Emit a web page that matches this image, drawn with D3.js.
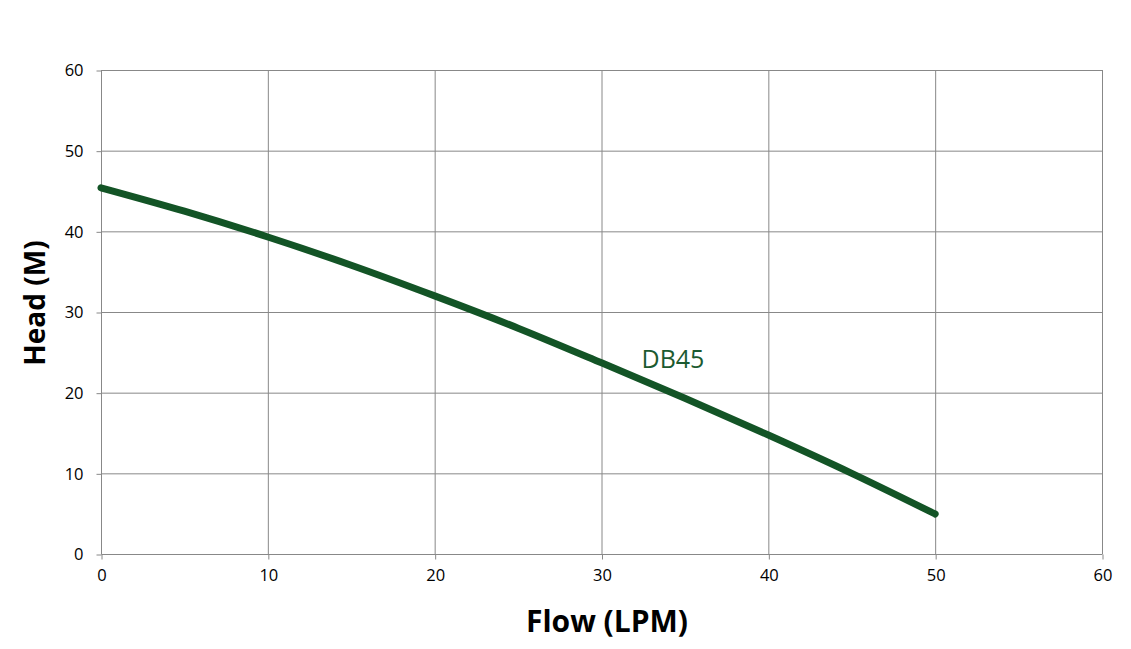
<!DOCTYPE html>
<html lang="en">
<head>
<meta charset="UTF-8">
<title>DB45 pump curve</title>
<script src="https://cdn.jsdelivr.net/npm/d3@7/dist/d3.min.js"></script>
<style>
    body{margin:0;background:#fff;}
    .tick text{font-family:"Open Sans",sans-serif;font-size:16.5px;fill:#000;}
</style>
</head>
<body>
<div id="chart"></div>
<script>
    // 数据
    var flow=[0,5,10,15,20,25,30,35,40,45,50];
    var head=[45.4,42.5,39.3,35.8,32.0,28.0,23.7,19.3,14.75,10.0,4.96];
    var xTicks=[0,10,20,30,40,50,60];
    var yTicks=[0,10,20,30,40,50,60];
    var seriesName="DB45";

    var width=1131,height=649,
        margin={left:101,top:70,right:29,bottom:95};
    var svg=d3.select('#chart').append('svg')
        .attr('width',width).attr('height',height);

    var x=d3.scaleLinear().domain([0,60]).range([margin.left,width-margin.right]);
    var y=d3.scaleLinear().domain([0,60]).range([height-margin.bottom,margin.top]);

    //网格线
    var grid=svg.append('g');
    grid.selectAll('.vx').data(xTicks.slice(1)).enter().append('line')
        .attr('x1',d=>x(d)+0.5).attr('x2',d=>x(d)+0.5)
        .attr('y1',y(60)).attr('y2',y(0))
        .attr('stroke','#888').attr('stroke-width',1);
    grid.selectAll('.hy').data(yTicks.slice(1)).enter().append('line')
        .attr('x1',x(0)).attr('x2',x(60))
        .attr('y1',d=>y(d)+0.5).attr('y2',d=>y(d)+0.5)
        .attr('stroke','#888').attr('stroke-width',1);

    //坐标轴
    var xAxis=svg.append('g')
        .attr('transform','translate(0.5,'+(y(0)+0.5)+')')
        .call(d3.axisBottom(x).tickValues(xTicks).tickSize(5).tickPadding(10));
    var yAxis=svg.append('g')
        .attr('transform','translate('+(x(0)+0.5)+',0.5)')
        .call(d3.axisLeft(y).tickValues(yTicks).tickSize(5).tickPadding(13));
    svg.selectAll('.domain').attr('stroke','#888');
    svg.selectAll('.tick line').attr('stroke','#888');
    yAxis.select('.domain').attr('d','M0,'+y(60)+'V'+y(0));
    xAxis.select('.domain').attr('d','M'+x(0)+',0H'+x(60));

    //曲线
    var line=d3.line().x(d=>x(d[0])).y(d=>y(d[1])).curve(d3.curveMonotoneX);
    svg.append('path')
        .datum(flow.map((f,i)=>[f,head[i]]))
        .attr('d',line)
        .attr('fill','none')
        .attr('stroke','#135426')
        .attr('stroke-width',7)
        .attr('stroke-linecap','round');

    svg.append('text')
        .attr('x',x(32.4)).attr('y',y(23.1))
        .attr('font-family','"Open Sans",sans-serif')
        .attr('font-size',25)
        .attr('fill','#1b5a30')
        .text(seriesName);

    //坐标轴标题
    svg.append('text')
        .attr('x',607).attr('y',632)
        .attr('text-anchor','middle')
        .attr('font-family','"Open Sans",sans-serif')
        .attr('font-weight','bold').attr('font-size',30)
        .text('Flow (LPM)');
    svg.append('text')
        .attr('transform','translate(45,303) rotate(-90)')
        .attr('text-anchor','middle')
        .attr('font-family','"Open Sans",sans-serif')
        .attr('font-weight','bold').attr('font-size',28)
        .text('Head (M)');
</script>
</body>
</html>
